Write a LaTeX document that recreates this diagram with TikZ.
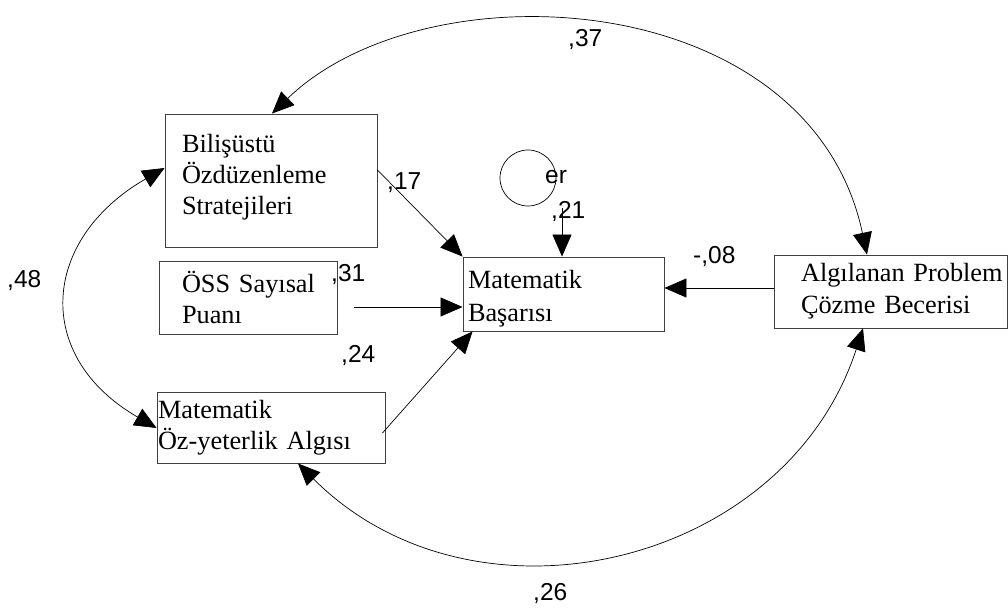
\documentclass[tikz,border=0pt]{standalone}
\usepackage{fontspec}
\setmainfont{Liberation Serif}
\newfontfamily\lsans{Liberation Sans}
\usetikzlibrary{arrows.meta}
\begin{document}
\begin{tikzpicture}[x=1pt,y=1pt,
  box/.style={draw=black!75, line width=0.9pt, rectangle, align=left, inner ysep=0pt,
    font=\fontsize{26.3}{31}\selectfont},
  coef/.style={anchor=base west, inner sep=0pt, font=\lsans\fontsize{24.5}{28}\selectfont},
  regr/.style={line width=0.7pt, -{Triangle[length=22pt,width=19pt]}},
  cov/.style={line width=0.7pt, {Triangle[length=22pt,width=19pt]}-{Triangle[length=22pt,width=19pt]}}
]
% canvas
\fill[white] (0,0) rectangle (1008,-610);
\useasboundingbox (0,0) rectangle (1008,-610);

% observed variables
\node[box, minimum width=212pt, minimum height=133pt, text width=178pt, inner xsep=17pt,
  text depth=75pt]
  (bil) at (271,-180.5) {Bilişüstü\\Özdüzenleme\\Stratejileri};
\node[box, minimum width=178pt, minimum height=73pt, text width=132pt, inner xsep=23pt]
  (oss) at (248,-297.5) {\mbox{ÖSS Sayısal}\\Puanı};
\node[box, minimum width=228pt, minimum height=71pt, text width=226pt, inner xsep=1pt]
  (oz) at (271,-427.5) {Matematik\\\mbox{Öz-yeterlik Algısı}};
\node[box, minimum width=201pt, minimum height=74pt, text width=191pt, inner xsep=5pt,
  font=\fontsize{26.3}{32.5}\selectfont, text height=28pt]
  (mb) at (563.5,-294) {Matematik\\Başarısı};
\node[box, minimum width=233pt, minimum height=73pt, text width=179pt, inner xsep=27pt,
  font=\fontsize{26.3}{32}\selectfont]
  (apc) at (890.5,-291.5) {\mbox{Algılanan Problem}\\\mbox{Çözme Becerisi}};

% error term
\node[draw, circle, minimum size=56pt, inner sep=0pt, line width=0.7pt] (er) at (528,-178) {};
\node[coef] (erlab) at (545,-183) {er};

% regression paths
\draw[regr] ([yshift=10.5pt]bil.east) -- (mb.north west);
\draw[regr] ([shift={(17pt,-9.5pt)}]oss.east) -- ([yshift=-13pt]mb.west);
\draw[regr] ([shift={(-3pt,-5.5pt)}]oz.east) -- ([xshift=10pt]mb.south west);
\draw[regr] ([yshift=3.5pt]apc.west) -- ([yshift=6pt]mb.east);
\draw[regr] ([shift={(34pt,-30pt)}]er.center) -- ([xshift=-1.5pt]mb.north);

% covariances
\draw[cov] ([xshift=1pt]bil.north) to[out=44, in=102, out distance=215pt, in distance=275pt]
  ([xshift=-23.5pt]apc.north);
\draw[cov] ([yshift=12.5pt]bil.west) to[out=210, in=150, distance=143pt]
  ([yshift=-0.5pt]oz.west);
\draw[cov] ([xshift=27pt]oz.south) to[out=-45, in=252, distance=250pt]
  ([xshift=-27.5pt]apc.south);

% estimates
\node[coef] (c37) at (568,-47) {,37};
\node[coef] (c17) at (387,-189) {,17};
\node[coef] (c21) at (551,-218) {,21};
\node[coef] (c31) at (331,-281) {,31};
\node[coef] (c24) at (341,-362) {,24};
\node[coef] (c08) at (693,-263) {-,08};
\node[coef] (c48) at (7,-287) {,48};
\node[coef] (c26) at (533,-600) {,26};
\end{tikzpicture}
\end{document}
